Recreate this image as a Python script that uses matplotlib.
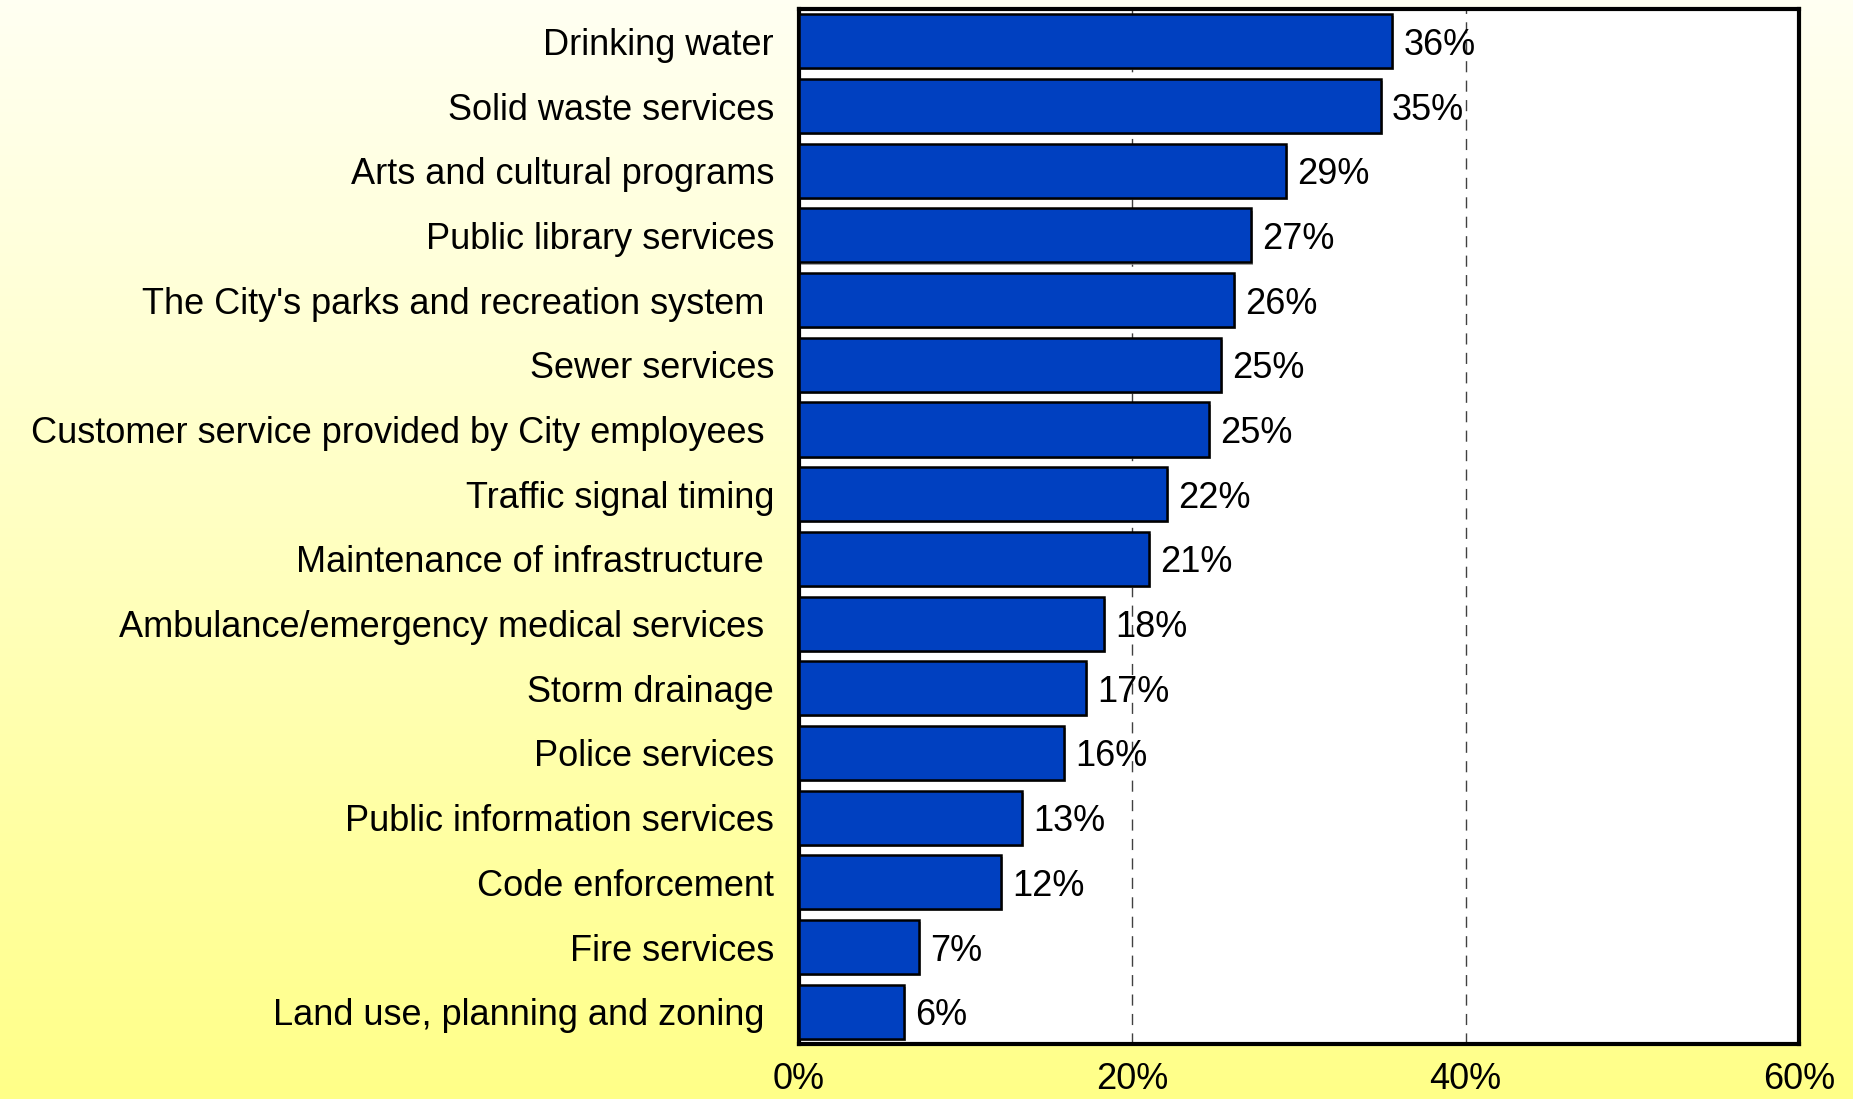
"""
Share of respondents rating each city service, horizontal bar chart.
"""

import numpy as np
import matplotlib
matplotlib.use("Agg")
import matplotlib.pyplot as plt
import matplotlib.patheffects as pe
from matplotlib.colors import LinearSegmentedColormap

plt.rcParams['font.family'] = ['Liberation Sans', 'DejaVu Sans']

# services, top to bottom
services = [
    "Drinking water",
    "Solid waste services",
    "Arts and cultural programs",
    "Public library services",
    "The City's parks and recreation system ",
    "Sewer services",
    "Customer service provided by City employees ",
    "Traffic signal timing",
    "Maintenance of infrastructure ",
    "Ambulance/emergency medical services ",
    "Storm drainage",
    "Police services",
    "Public information services",
    "Code enforcement",
    "Fire services",
    "Land use, planning and zoning ",
]
# percent of respondents
percent = [35.6, 34.9, 29.2, 27.1, 26.1, 25.3, 24.6, 22.1,
           21.0, 18.3, 17.2, 15.9, 13.4, 12.1, 7.2, 6.3]
x_ticks = [0, 20, 40, 60]
x_tick_labels = ["0%", "20%", "40%", "60%"]

BAR_BLUE = "#0040C0"
FS = 26

fig = plt.figure(figsize=(18.53, 10.99), dpi=100)

# pale cream to yellow backdrop behind everything
bg = fig.add_axes([0, 0, 1, 1], zorder=-10)
cmap = LinearSegmentedColormap.from_list("cream", ["#FFFFF2", "#FFFFC0", "#FFFF88"])
grad = np.linspace(0, 1, 256).reshape(-1, 1)
bg.imshow(grad, aspect="auto", cmap=cmap, extent=[0, 1, 0, 1], origin="upper")
bg.set_axis_off()

ax = fig.add_axes([0.4312, 0.0500, 0.5396, 0.9418])
ax.set_facecolor("white")

y = np.arange(len(services))
bars = ax.barh(y, percent, height=0.835, color=BAR_BLUE, edgecolor="black",
               linewidth=1.8, zorder=3)
for b in bars:
    b.set_path_effects([pe.SimplePatchShadow(offset=(1.5, -1.5), shadow_rgbFace="0.55", alpha=0.8),
                        pe.Normal()])

for yi, v in zip(y, percent):
    ax.annotate(f"{v:.0f}%", (v, yi), xytext=(8, 0), textcoords="offset points",
                va="center_baseline", ha="left", fontsize=FS, zorder=5)

ax.set_xlim(0, 60)
ax.set_ylim(len(services) - 0.5, -0.5)
ax.set_yticks(y)
ax.set_yticklabels(services, fontsize=FS, va="center_baseline")
ax.set_xticks(x_ticks)
ax.set_xticklabels(x_tick_labels, fontsize=FS)
ax.tick_params(axis="y", length=0, pad=18)
ax.tick_params(axis="x", length=0, pad=13)

for xv in x_ticks[1:-1]:
    ax.axvline(xv, color="0.25", linewidth=1.0, linestyle=(0, (8, 6)), zorder=1)

for s in ax.spines.values():
    s.set_linewidth(3)
    s.set_color("black")

fig.savefig("out.png", dpi=100)
